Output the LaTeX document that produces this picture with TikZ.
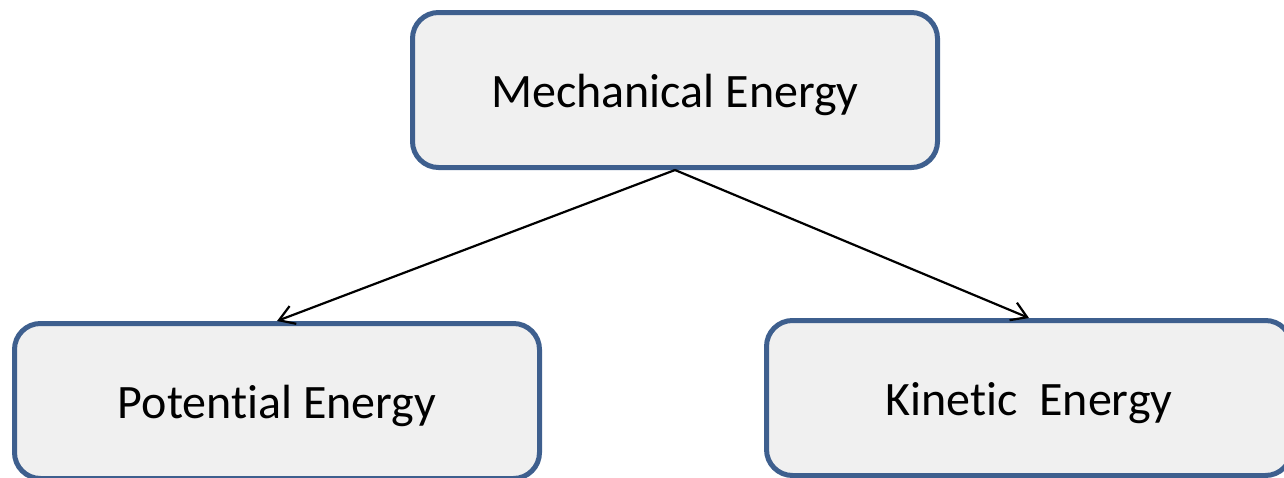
\documentclass[tikz,border=0pt]{standalone}
\usepackage{fontspec}
\setmainfont[Ligatures=NoCommon]{Carlito}
\usetikzlibrary{arrows.meta}
\definecolor{boxborder}{RGB}{62,95,142}
\definecolor{boxfill}{RGB}{240,240,240}
\begin{document}
\begin{tikzpicture}[x=1pt,y=-1pt,
  ebox/.style={draw=boxborder, fill=boxfill, line width=5pt, rounded corners=26pt,
    minimum width=525pt, minimum height=155pt, inner sep=0pt,
    text height=34pt, text depth=0pt,
    font=\fontsize{48}{58}\selectfont},
  link/.style={line width=2.2pt, -{Straight Barb[length=15pt,width=19pt,line width=2.2pt]}}]
\clip (0,0) rectangle (1284,477);
\useasboundingbox (0,0) rectangle (1284,477);
\node[ebox] (mech) at (675,90) {Mechanical Energy};
\node[ebox] (pot) at (277,401) {Potential Energy};
\node[ebox] (kin) at (1029,398) {Kinetic\ \ Energy};
\draw[link] (mech.south) -- (pot.north);
\draw[link] (mech.south) -- (kin.north);
\end{tikzpicture}
\end{document}
